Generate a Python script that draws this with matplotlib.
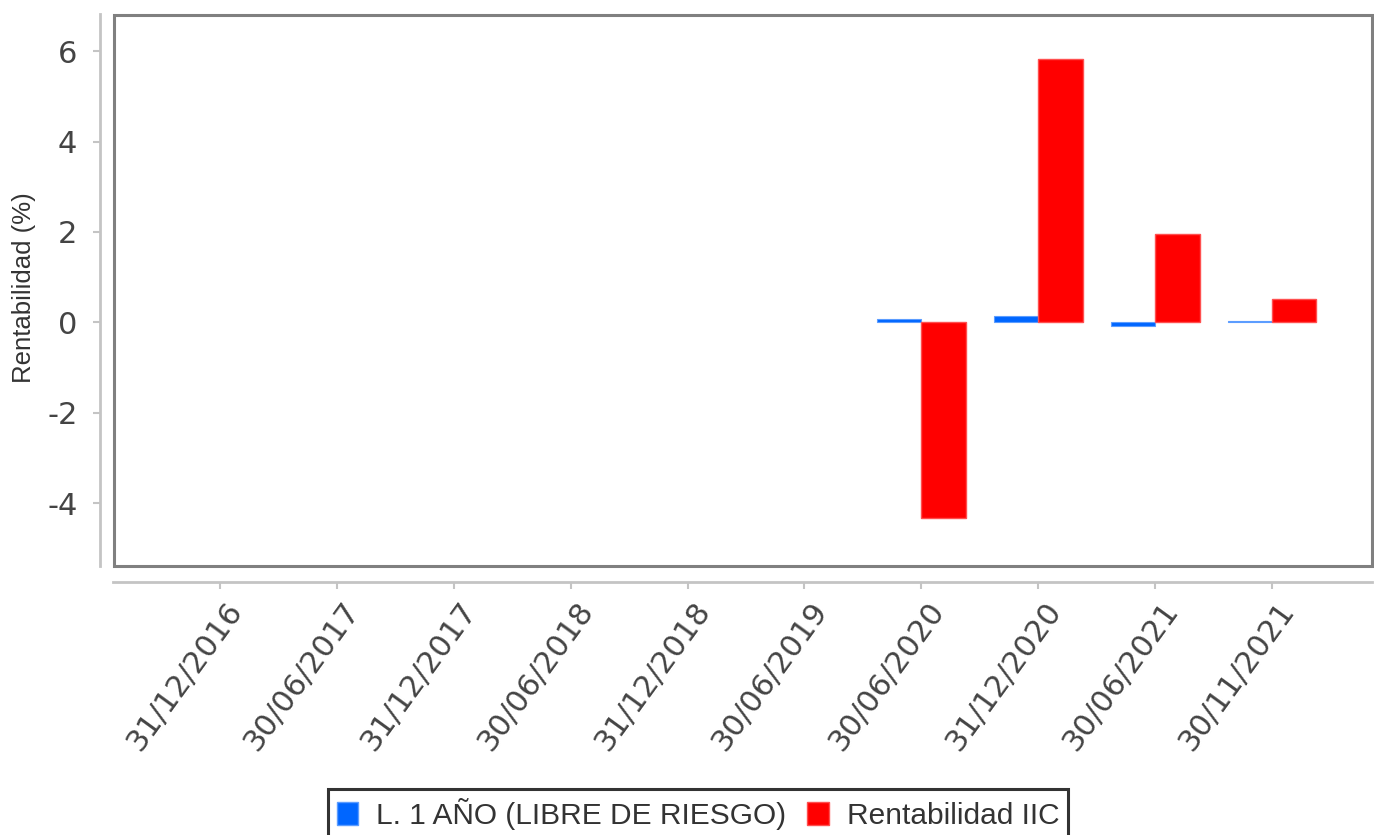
import numpy as np
import matplotlib
matplotlib.use("Agg")
import matplotlib.pyplot as plt
from matplotlib.patches import Rectangle, Patch
from matplotlib.transforms import ScaledTranslation

plt.rcParams['font.family'] = ['Liberation Sans', 'DejaVu Sans']

categories = ["31/12/2016", "30/06/2017", "31/12/2017", "30/06/2018", "31/12/2018",
              "30/06/2019", "30/06/2020", "31/12/2020", "30/06/2021", "30/11/2021"]
libre_riesgo = [np.nan, np.nan, np.nan, np.nan, np.nan, np.nan, 0.07, 0.15, -0.08, 0.02]
rentabilidad_iic = [np.nan, np.nan, np.nan, np.nan, np.nan, np.nan, -4.33, 5.82, 1.95, 0.51]
yticks = [-4, -2, 0, 2, 4, 6]
series_names = ["L. 1 AÑO (LIBRE DE RIESGO)", "Rentabilidad IIC"]
blue = "#0066ff"
red = "#ff0000"

W, H = 1374, 835
fig = plt.figure(figsize=(W / 100, H / 100), dpi=100)
ax = fig.add_axes([113.5 / W, 1 - 565.5 / H, (1371.5 - 113.5) / W, (565.5 - 14.5) / H])

x = np.arange(len(categories))
bw = 0.38
ax.bar(x, libre_riesgo, width=-bw, align='edge', color=blue, edgecolor='#5c9dff', linewidth=0.8)
ax.bar(x, rentabilidad_iic, width=bw, align='edge', color=red, edgecolor='#ff5050', linewidth=1.0)

ax.set_xlim(-0.911, 9.851)
ax.set_ylim(-5.38, 6.81)

# frame box
ax.add_patch(Rectangle((0, 0), 1, 1, transform=ax.transAxes, fill=False,
                       edgecolor='#808080', linewidth=2.2, clip_on=False, zorder=5))
for s in ['top', 'right']:
    ax.spines[s].set_visible(False)
ax.spines['left'].set_position(('outward', 10))
ax.spines['bottom'].set_position(('outward', 12))
for s in ['left', 'bottom']:
    ax.spines[s].set_color('#c4c4c4')
    ax.spines[s].set_linewidth(2.0)

ax.set_yticks(yticks)
ax.set_yticklabels([str(v) for v in yticks], fontfamily='DejaVu Sans')
ax.tick_params(axis='y', length=5, width=1.5, color='#c4c4c4', pad=11,
               labelsize=22, labelcolor='#444444')
ax.set_xticks(x)
ax.set_xticklabels([])
ax.tick_params(axis='x', length=5, width=1.5, color='#c4c4c4')

off = ScaledTranslation(17 / 100, -28 / 100, fig.dpi_scale_trans)
for xi, lab in zip(x, categories):
    ax.text(xi, 0, lab, transform=ax.get_xaxis_transform() + ScaledTranslation(0, -12 / 100, fig.dpi_scale_trans) + off,
            rotation=54, rotation_mode='anchor', ha='right', va='center',
            fontsize=22, color='#444444', fontfamily='DejaVu Sans')

fig.text(24 / W, 1 - 288 / H, "Rentabilidad (%)", rotation=90, ha='center', va='center',
         fontsize=18.5, color='#333333')

handles = [Patch(facecolor=blue, edgecolor='#5c9dff'), Patch(facecolor=red, edgecolor='#ff5050')]
leg = fig.legend(handles, series_names, loc='upper center', bbox_to_anchor=(698 / W, 1 - 789 / H),
                 ncol=2, fontsize=21.5, frameon=True, fancybox=False, handlelength=0.72,
                 handleheight=0.8, handletextpad=0.6, columnspacing=0.7, borderpad=0.3,
                 borderaxespad=0)
leg.get_frame().set_edgecolor('black')
leg.get_frame().set_linewidth(2.2)
for t in leg.get_texts():
    t.set_color('#333333')

fig.savefig("out.png", dpi=100)
